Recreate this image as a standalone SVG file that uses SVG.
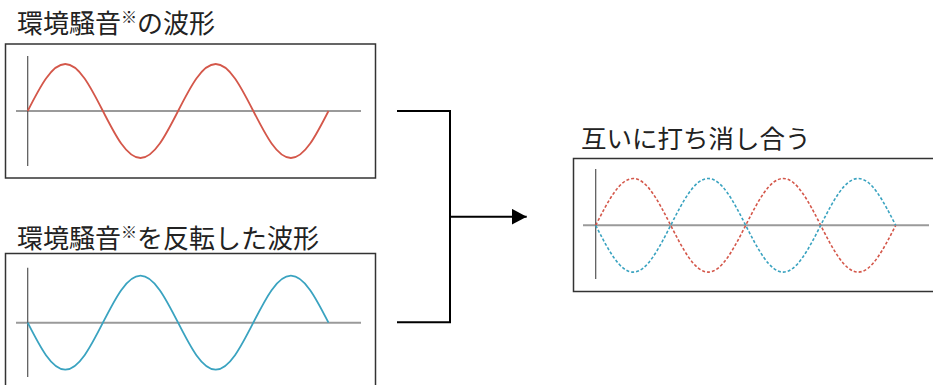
<svg xmlns="http://www.w3.org/2000/svg" width="933" height="385" viewBox="0 0 933 385">
<style>
.frame{fill:#fff;stroke:#333;stroke-width:1.5}
.ax-h{stroke:#9a9a9a;stroke-width:2}
.ax-v{stroke:#555;stroke-width:1.2}
.title{font-family:"Noto Sans CJK JP","Noto Sans CJK SC",sans-serif;font-size:26px;fill:#222}
.mark{font-size:16px}
.red{fill:none;stroke:#d4574a;stroke-width:1.8}
.blue{fill:none;stroke:#3aa3c0;stroke-width:1.8}
.dash{stroke-width:1.6;stroke-dasharray:3 2}
.conn{fill:none;stroke:#000;stroke-width:2}
</style>
<defs>
<marker id="arr" markerWidth="16" markerHeight="16" refX="15" refY="8" orient="auto" markerUnits="userSpaceOnUse">
<path d="M0,0 L15,8 L0,16 Z" fill="#000"/>
</marker>
</defs>
<rect width="933" height="385" fill="#fff"/>
<g id="node-noise">
<text class="title" x="17" y="33">環境騒音<tspan class="mark" dy="-10">※</tspan><tspan dy="10">の波形</tspan></text>
<rect class="frame" x="5.5" y="44" width="370" height="134"/>
<line class="ax-h" x1="16" y1="111" x2="361" y2="111"/>
<line class="ax-v" x1="27.7" y1="56" x2="27.7" y2="166"/>
<path class="red" d="M27.7,111 c12.26,-24.08 23.99,-47 37.6,-47 s25.34,22.92 37.6,47 s23.99,47 37.6,47 s25.34,-22.92 37.6,-47 s23.99,-47 37.6,-47 s25.34,22.92 37.6,47 s23.99,47 37.6,47 s25.34,-22.92 37.6,-47"/>
</g>
<g id="node-inverted">
<text class="title" x="17" y="248">環境騒音<tspan class="mark" dy="-10">※</tspan><tspan dy="10">を反転した波形</tspan></text>
<rect class="frame" x="5.5" y="253.5" width="370" height="140"/>
<line class="ax-h" x1="16" y1="322.7" x2="361" y2="322.7"/>
<line class="ax-v" x1="27.7" y1="267.7" x2="27.7" y2="377"/>
<path class="blue" d="M27.7,322.7 c12.26,24.08 23.99,47 37.6,47 s25.34,-22.92 37.6,-47 s23.99,-47 37.6,-47 s25.34,22.92 37.6,47 s23.99,47 37.6,47 s25.34,-22.92 37.6,-47 s23.99,-47 37.6,-47 s25.34,22.92 37.6,47"/>
</g>
<g id="node-cancel">
<text class="title" x="581" y="148" style="font-size:25.5px">互いに打ち消し合う</text>
<rect class="frame" x="573.5" y="158.5" width="370" height="133"/>
<line class="ax-h" x1="583" y1="225.3" x2="929" y2="225.3"/>
<line class="ax-v" x1="595.7" y1="169" x2="595.7" y2="279"/>
<path class="red dash" d="M595.7,225.3 c12.23,-23.98 23.93,-46.8 37.5,-46.8 s25.27,22.82 37.5,46.8 s23.93,46.8 37.5,46.8 s25.27,-22.82 37.5,-46.8 s23.93,-46.8 37.5,-46.8 s25.27,22.82 37.5,46.8 s23.93,46.8 37.5,46.8 s25.27,-22.82 37.5,-46.8"/>
<path class="blue dash" d="M595.7,225.3 c12.23,23.98 23.93,46.8 37.5,46.8 s25.27,-22.82 37.5,-46.8 s23.93,-46.8 37.5,-46.8 s25.27,22.82 37.5,46.8 s23.93,46.8 37.5,46.8 s25.27,-22.82 37.5,-46.8 s23.93,-46.8 37.5,-46.8 s25.27,22.82 37.5,46.8"/>
</g>
<g id="connectors">
<polyline class="conn" points="397,111 450,111 450,322.3 397,322.3"/>
<line class="conn" x1="450" y1="216.7" x2="526.7" y2="216.7" marker-end="url(#arr)"/>
</g>
</svg>
